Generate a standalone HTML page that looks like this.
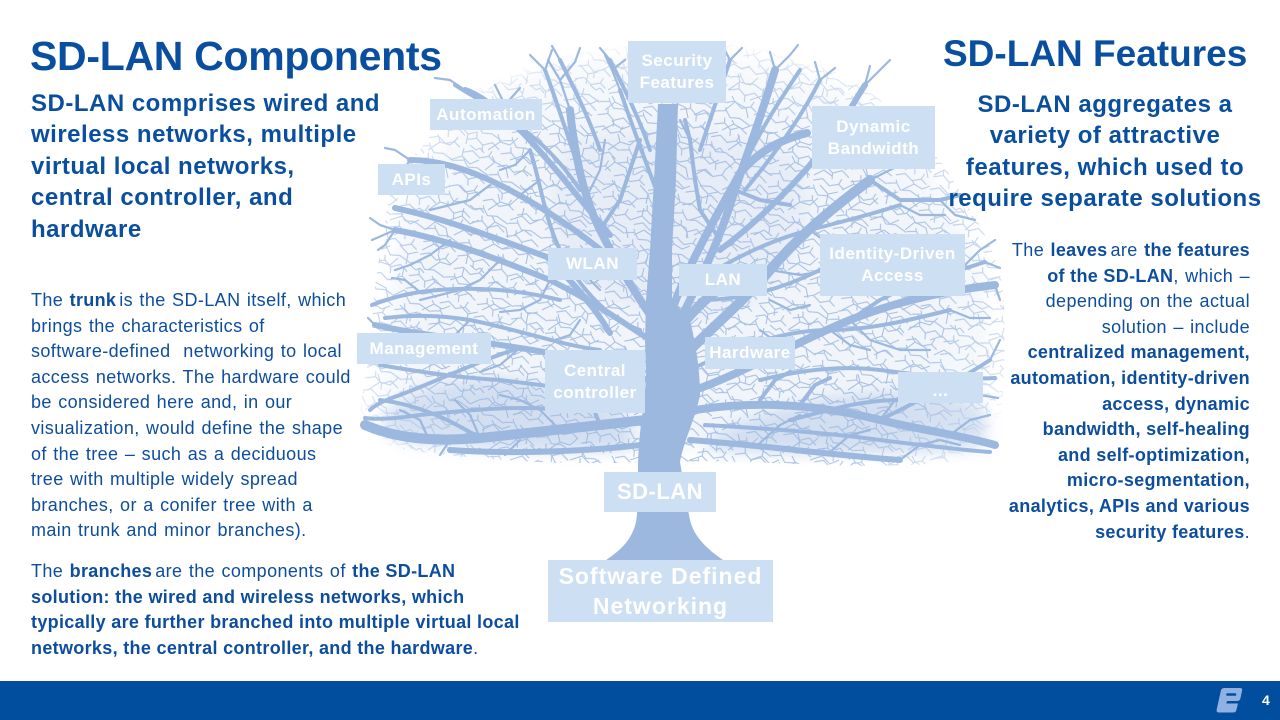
<!DOCTYPE html>
<html><head><meta charset="utf-8">
<style>
*{margin:0;padding:0;box-sizing:border-box}
html,body{width:1280px;height:720px;overflow:hidden;background:#fff}
body{position:relative;font-family:"Liberation Sans",Arial,sans-serif;color:#0d4d9e}
.abs{position:absolute;white-space:nowrap}
.t1{left:30px;top:32px;font-size:41px;line-height:48px;font-weight:bold;letter-spacing:-0.3px;color:#0a4f9f}
.t2{left:943px;top:32px;font-size:37px;line-height:44px;font-weight:bold;color:#0a4f9f}
.sub{font-size:24px;line-height:31.4px;font-weight:bold;letter-spacing:0.5px;color:#0a4f9f}
.body{font-size:18px;line-height:25.6px;letter-spacing:0.4px;word-spacing:1px}
.body b{letter-spacing:0.32px;word-spacing:0}
.lb{position:absolute;background:#cddff2;color:#fff;font-weight:bold;display:flex;align-items:center;justify-content:center;text-align:center;font-size:17px;line-height:22px;letter-spacing:0.5px;white-space:nowrap}
.bar{position:absolute;left:0;top:681px;width:1280px;height:39px;background:#014e9e}
</style></head><body>

<svg class="abs" style="left:0;top:0" width="1280" height="720" viewBox="0 0 1280 720">
<defs>
<pattern id="tw" width="60" height="60" patternUnits="userSpaceOnUse">
<path d="M2,10 L14,4 L22,9 L30,6 M14,4 L12,0 M8,30 L20,22 L30,25 L38,18 M20,22 L18,14 M40,5 L48,14 L58,12 M48,14 L46,24 M5,50 L15,42 L26,48 L28,58 M15,42 L12,36 M30,40 L42,36 L50,44 L59,40 M42,36 L44,28 M34,55 L44,50 L52,56 M50,25 L56,30 L60,28 M0,28 L4,33" stroke="#9cb8df" stroke-width="1.1" fill="none"/>
</pattern>
<pattern id="tw2" width="37" height="37" patternUnits="userSpaceOnUse" patternTransform="rotate(23)">
<path d="M0,7 L9,3 L15,8 L24,5 L37,8 M9,3 L7,0 M3,20 L12,15 L20,19 L28,13 L37,17 M12,15 L10,10 M5,33 L13,28 L22,32 L30,27 L37,30 M20,19 L22,25 M30,27 L31,21" stroke="#9cb8df" stroke-width="1.1" fill="none"/>
</pattern>
<filter id="bl" x="-10%" y="-10%" width="120%" height="120%"><feGaussianBlur stdDeviation="7"/></filter>
<radialGradient id="rg" cx="680" cy="300" r="360" gradientUnits="userSpaceOnUse" gradientTransform="translate(680 300) scale(1 0.72) translate(-680 -300)">
<stop offset="0" stop-color="#fff"/>
<stop offset="0.72" stop-color="#fff"/>
<stop offset="0.95" stop-color="#777"/>
<stop offset="1" stop-color="#000"/>
</radialGradient>
<mask id="mk"><rect x="0" y="0" width="1280" height="720" fill="url(#rg)"/></mask>
<clipPath id="cp"><path d="M640,462 C560,466 470,459 400,449 C372,444 358,432 360,415 C362,390 370,360 372,330 C372,300 378,260 385,230 C385,200 395,170 420,150 C440,120 460,95 490,75 C520,55 560,42 600,40 L740,42 C790,48 840,70 880,100 C920,130 950,170 970,210 C990,240 1002,270 1004,300 C1006,360 1002,420 998,452 C960,466 880,468 800,464 C740,462 700,460 690,462 Z"/></clipPath>
</defs>
<!-- soft tints -->
<g filter="url(#bl)" fill="#9cb8df" mask="url(#mk)">
<path d="M640,450 C560,455 470,448 410,440 C385,435 375,425 378,410 C380,385 385,360 386,330 C388,300 392,260 398,232 C400,205 410,180 430,160 C450,130 470,105 500,85 C530,65 565,55 600,55 L740,57 C785,62 830,80 868,108 C905,135 935,172 955,212 C975,245 985,272 988,300 C990,360 988,420 985,445 C950,455 880,456 800,452 C740,450 700,448 690,450 Z" fill-opacity="0.14"/>
<path d="M560,150 C600,120 740,120 800,160 C820,220 800,300 700,320 C620,320 560,280 550,220 Z" fill-opacity="0.12"/>
</g>
<g filter="url(#bl)" fill="#9cb8df">
<path d="M380,428 C385,402 420,385 470,380 C530,376 590,392 630,420 L630,450 C560,455 470,450 405,442 Z" fill-opacity="0.35"/>
<path d="M710,440 C760,405 850,388 930,392 C965,396 985,405 988,422 L985,448 C930,456 800,456 710,452 Z" fill-opacity="0.35"/>
</g>
<g clip-path="url(#cp)" opacity="0.85" mask="url(#mk)">
<rect x="350" y="35" width="660" height="440" fill="url(#tw)"/>
<rect x="350" y="35" width="660" height="440" fill="url(#tw2)"/>
</g>

<!-- trunk -->
<path d="M603,562 C625,548 635,535 637,515 L638,470 C638,450 640,430 643,410 L646,380 L645,340 L646,300 L650,250 L654,180 L658,104 L678,104 L676,180 L672,250 L672,300 L690,320 C696,345 700,370 700,395 C695,420 684,440 680,462 L689,515 C692,535 705,548 726,562 Z" fill="#9cb8df"/>

<g fill="none" stroke="#9cb8df" stroke-linecap="round" stroke-linejoin="round">
<g stroke-width="10">
<path d="M645,420 C600,425 540,432 480,438 C430,442 395,438 365,425"/>
<path d="M690,350 C720,320 745,300 770,270 C800,235 830,210 870,180"/>
<path d="M672,340 C690,310 715,290 745,270"/>
</g>
<g stroke-width="8">
<path d="M660,330 C640,300 620,270 600,230 C585,200 575,160 570,110"/>
<path d="M672,310 C690,260 720,210 740,173 C760,150 780,140 807,133"/>
<path d="M680,320 C700,280 720,240 735,190 C745,160 760,120 775,70"/>
<path d="M695,390 C750,370 800,340 850,320 C900,300 950,290 995,285"/>
<path d="M695,410 C760,400 820,405 880,420 C920,430 960,435 995,445"/>
</g>
<g stroke-width="6">
<path d="M690,440 C760,445 830,455 900,460"/>
<path d="M648,380 C610,370 570,355 520,348 C470,340 420,335 375,325"/>
<path d="M650,340 C620,320 590,300 550,280 C500,260 450,240 395,230"/>
<path d="M625,270 C590,240 550,210 500,185 C470,170 440,160 410,160"/>
<path d="M610,235 C580,200 550,160 520,130 C500,110 480,95 465,90"/>
<path d="M720,250 C760,220 800,180 830,140 C845,120 855,100 865,85"/>
<path d="M640,445 C600,450 520,455 450,450"/>
<path d="M610,333 C590,300 570,280 547,257 C500,240 450,220 395,208"/>
</g>
<g stroke-width="4">
<path d="M590,200 C575,160 560,110 545,70"/>
<path d="M745,190 C770,160 800,120 820,80"/>
<path d="M660,200 C645,160 630,120 620,90"/>
<path d="M880,420 C920,400 960,380 990,360"/>
<path d="M520,348 C480,360 440,380 400,395 C385,400 375,405 370,410"/>
<path d="M480,438 C450,420 420,405 380,400"/>
<path d="M870,180 L900,200 L940,200 L960,195"/>
<path d="M850,320 L880,300 L920,280 L960,270 L985,262"/>
<path d="M600,230 L620,200 L630,170 L640,140"/>
<path d="M735,190 L760,200 L790,205"/>
<path d="M720,240 L700,210 L695,180 L690,140 L685,120"/>
<path d="M760,400 L775,380 L790,372"/>
<path d="M800,405 L815,385 L830,378"/>
<path d="M600,425 L590,400 L575,385 L560,378"/>
<path d="M640,330 C610,320 580,290 560,250 C545,220 540,180 530,150"/>
<path d="M580,190 C560,160 540,140 510,120 C490,105 470,95 455,85"/>
<path d="M560,300 C520,290 470,285 420,292 C400,295 385,300 372,305"/>
<path d="M600,350 C560,345 520,330 470,320 C440,315 410,315 385,318"/>
<path d="M620,395 C580,390 540,385 500,380 C460,378 420,372 380,365"/>
<path d="M560,410 C520,405 470,410 420,415 C400,418 380,420 365,418"/>
<path d="M700,280 C730,260 770,240 810,230 C840,222 870,215 900,205"/>
<path d="M690,370 C730,350 780,330 830,330 C870,330 910,320 950,310"/>
<path d="M700,300 C740,300 780,290 820,270"/>
<path d="M705,425 C760,428 820,432 880,440 C920,445 960,450 990,452"/>
<path d="M760,380 C800,370 840,365 880,370 C920,375 960,380 995,378"/>
<path d="M790,420 C830,410 860,400 900,400"/>
<path d="M740,173 C760,130 780,100 800,70"/>
<path d="M700,150 C710,120 720,90 730,60"/>
<path d="M650,150 C640,120 625,90 610,60"/>
<path d="M600,150 C590,120 575,90 560,60"/>
</g>
<g stroke-width="2.2">
<path d="M570,110 L560,80 L548,60 M560,80 L575,62 L580,48"/>
<path d="M545,70 L530,55 M545,70 L552,50"/>
<path d="M520,130 L505,105 L495,85 M505,105 L520,88"/>
<path d="M620,90 L612,70 L605,55 M612,70 L625,60"/>
<path d="M775,70 L770,52 M775,70 L790,55 L798,45"/>
<path d="M820,80 L815,62 M820,80 L835,68"/>
<path d="M865,85 L880,70 L890,60 M865,85 L870,66"/>
<path d="M830,140 L850,130 L870,120"/>
<path d="M870,180 L900,165 L930,160 M900,165 L915,145"/>
<path d="M940,200 L955,215 L975,220"/>
<path d="M995,285 L1000,300"/>
<path d="M465,90 L450,80 L435,78"/>
<path d="M410,160 L395,150 L385,148 M410,160 L400,175 L388,180"/>
<path d="M395,230 L380,225 L370,218 M395,230 L385,245 L378,250"/>
<path d="M450,240 L430,255 L410,265 L395,270"/>
<path d="M500,260 L480,280 L460,290 L440,295 L420,300"/>
<path d="M520,348 L500,365 L480,372"/>
<path d="M560,430 L540,410 L520,400 L500,395"/>
<path d="M480,438 L470,415 L455,400"/>
<path d="M430,442 L420,420 L400,410"/>
<path d="M520,440 L505,455 M450,440 L440,455"/>
<path d="M760,443 L780,425 L800,415"/>
<path d="M830,452 L850,435 L870,430"/>
<path d="M900,460 L920,445 L940,440 L960,445"/>
<path d="M950,435 L970,420 L990,415"/>
<path d="M880,420 L895,400 L910,390"/>
<path d="M585,200 L600,170 L605,140"/>
<path d="M960,270 L980,250 L995,240 M985,262 L1000,268"/>
<path d="M990,360 L1000,340 M960,380 L980,395 L998,398"/>
<path d="M375,325 L368,318 M395,230 L372,240"/>
<path d="M550,280 L540,300 L520,310 L500,312"/>
<path d="M830,140 L860,150 L880,160"/>
<path d="M770,270 L800,275 L830,270 L860,262"/>
<path d="M850,320 L870,340 L900,350 L930,350"/>
<path d="M490,185 L470,200 L450,205 L430,210"/>
<path d="M530,150 L515,165 L500,170 M540,180 L520,195"/>
<path d="M470,320 L455,335 L440,340 M420,292 L405,280 L392,278"/>
<path d="M810,230 L830,245 L855,250 M900,205 L920,215 L945,215"/>
<path d="M830,330 L850,345 L870,350 M950,310 L970,318 L990,318"/>
<path d="M730,60 L722,45 M730,60 L742,48 M610,60 L600,48 M560,60 L552,46"/>
<path d="M690,140 L680,120 M705,90 L712,72"/>
<path d="M770,300 L790,310 L810,305 M760,330 L780,345 L800,345"/>
<path d="M580,320 L570,335 L555,340 M600,290 L585,275"/>
</g>
</g>
</svg>

<div class="abs t1">SD-LAN Components</div>
<div class="abs t2">SD-LAN Features</div>

<div class="abs sub" style="left:31px;top:88px">SD-LAN comprises wired and<br>wireless networks, multiple<br>virtual local networks,<br>central controller, and<br>hardware</div>

<div class="abs sub" style="left:905px;top:89px;width:400px;text-align:center">SD-LAN aggregates a<br>variety of attractive<br>features, which used to<br>require separate solutions</div>

<div class="abs body" style="left:31px;top:288px">The <b style="margin-right:3px">trunk</b>is the SD-LAN itself, which<br>brings the characteristics of<br>software-defined&nbsp; networking to local<br>access networks. The hardware could<br>be considered here and, in our<br>visualization, would define the shape<br>of the tree – such as a deciduous<br>tree with multiple widely spread<br>branches, or a conifer tree with a<br>main trunk and minor branches).</div>

<div class="abs body" style="left:31px;top:559px">The <b style="margin-right:3px">branches</b>are the components of <b>the SD-LAN</b><br><b>solution: the wired and wireless networks, which</b><br><b>typically are further branched into multiple virtual local</b><br><b>networks, the central controller, and the hardware</b>.</div>

<div class="abs body" style="right:30px;top:238px;text-align:right">The <b style="margin-right:3px">leaves</b>are <b>the features</b><br><b>of the SD-LAN</b>, which –<br>depending on the actual<br>solution – include<br><b>centralized management,</b><br><b>automation, identity-driven</b><br><b>access, dynamic</b><br><b>bandwidth, self-healing</b><br><b>and self-optimization,</b><br><b>micro-segmentation,</b><br><b>analytics, APIs and various</b><br><b>security features</b>.</div>

<div class="lb" style="left:628px;top:41px;width:98px;height:62px">Security<br>Features</div>
<div class="lb" style="left:430px;top:99px;width:112px;height:31px">Automation</div>
<div class="lb" style="left:812px;top:106px;width:123px;height:63px">Dynamic<br>Bandwidth</div>
<div class="lb" style="left:378px;top:164px;width:67px;height:31px">APIs</div>
<div class="lb" style="left:548px;top:248px;width:89px;height:32px">WLAN</div>
<div class="lb" style="left:679px;top:264px;width:88px;height:32px">LAN</div>
<div class="lb" style="left:820px;top:234px;width:145px;height:62px">Identity-Driven<br>Access</div>
<div class="lb" style="left:357px;top:333px;width:134px;height:31px">Management</div>
<div class="lb" style="left:705px;top:337px;width:90px;height:32px">Hardware</div>
<div class="lb" style="left:545px;top:350px;width:100px;height:63px">Central<br>controller</div>
<div class="lb" style="left:898px;top:372px;width:85px;height:31px;padding-top:6px">...</div>
<div class="lb" style="left:604px;top:472px;width:112px;height:40px;font-size:22px">SD-LAN</div>
<div class="lb" style="left:548px;top:560px;width:225px;height:62px;font-size:23px;line-height:30px;letter-spacing:1px">Software Defined<br>Networking</div>

<div class="bar"></div>
<svg class="abs" style="left:1216px;top:688px" width="28" height="25" viewBox="0 0 28 25">
<path d="M8,0 H24 Q27,0 26,3 L24.5,10 Q24,13 21,13 H11 L10.4,15.5 H22 L20.5,21.5 Q20,24.5 17,24.5 H3 Q0,24.5 0.7,21.5 L4.8,3 Q5.4,0 8,0 Z" fill="#8fb2e2"/>
<path d="M11.5,6.5 H19" stroke="#014e9e" stroke-width="2.6" stroke-linecap="round"/>
</svg>
<div class="abs" style="left:1262px;top:691px;font-size:14px;line-height:18px;font-weight:bold;color:#fff">4</div>
</body></html>
